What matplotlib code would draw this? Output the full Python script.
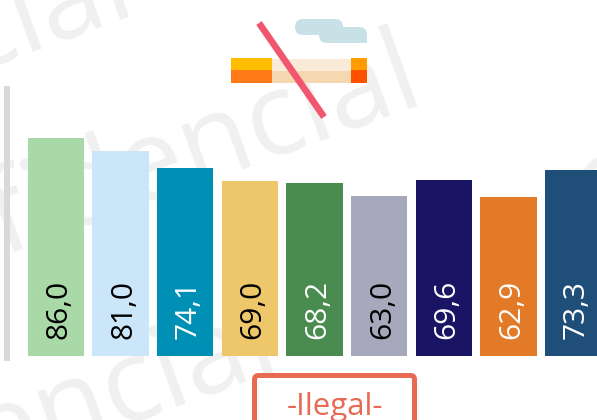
"""Bar chart with a crossed-out cigarette icon, "-Ilegal-" box and watermark."""

import matplotlib

matplotlib.use("Agg")
import matplotlib.pyplot as plt
from matplotlib.patches import FancyBboxPatch, Rectangle

W, H = 597, 420

values = [86.0, 81.0, 74.1, 69.0, 68.2, 63.0, 69.6, 62.9, 73.3]
value_labels = ["86,0", "81,0", "74,1", "69,0", "68,2", "63,0", "69,6", "62,9", "73,3"]
bar_colors = ["#aad9a8", "#cbe6f8", "#0090b5", "#eec76a", "#4a8c50",
              "#a8a8bc", "#1a1464", "#e27a27", "#1f4e79"]
label_colors = ["black", "black", "white", "black", "white",
                "black", "white", "white", "white"]
group_label = "-Ilegal-"
watermark = "Confidencial"

plt.rcParams["font.family"] = ["Open Sans", "DejaVu Sans"]

fig = plt.figure(figsize=(W / 100, H / 100), dpi=100)

# Pixel-grid background axes for the watermark, drawn under the bars
back = fig.add_axes([0, 0, 1, 1], zorder=-1)
back.set_xlim(0, W)
back.set_ylim(H, 0)
back.axis("off")
wm = dict(color="#f0f0f0", fontsize=83, rotation=20, rotation_mode="anchor",
          ha="right", va="baseline", clip_on=True)
back.text(138, 11, watermark, **wm)
back.text(426, 100, watermark, **wm)
back.text(282, 366, watermark, **wm)
back.text(1212, 20, watermark, **wm)

# Full-figure axes so the bars sit on the same pixel grid as the reference
ax = fig.add_axes([0, 0, 1, 1], zorder=1)
pitch = 64.7
scale = 2.535
ax.set_xlim(-55.75 / pitch, (W - 55.75) / pitch)
ax.set_ylim(-(H - 356) / scale, 356 / scale)
ax.axis("off")
ax.patch.set_alpha(0)

# Pixel overlay for the decorations
deco = fig.add_axes([0, 0, 1, 1], zorder=3)
deco.set_xlim(0, W)
deco.set_ylim(H, 0)
deco.axis("off")
deco.patch.set_alpha(0)

# Bars
xs = range(len(values))
ax.bar(xs, values, width=0.873, color=bar_colors, zorder=2)
for x, label, color in zip(xs, value_labels, label_colors):
    ax.text(x + 0.05, 6.6, label, rotation=90, ha="center", va="bottom",
            color=color, fontsize=21.5, zorder=3)

# Left axis line
deco.add_patch(Rectangle((4, 86), 6, 274.5, color="#d9d9d9", lw=0))

# Cigarette icon
deco.add_patch(Rectangle((231, 58), 41, 12, color="#ffbd00", lw=0))
deco.add_patch(Rectangle((231, 70), 41, 13, color="#ff7a17", lw=0))
deco.add_patch(Rectangle((272, 59), 79, 12, color="#faebd9", lw=0))
deco.add_patch(Rectangle((272, 71), 79, 12, color="#f5d7b0", lw=0))
deco.add_patch(Rectangle((351, 58), 16, 12, color="#ff9d00", lw=0))
deco.add_patch(Rectangle((351, 70), 16, 13, color="#ff5000", lw=0))

# Smoke cloud
cloud = "#c7e1e7"
deco.add_patch(FancyBboxPatch((295, 19), 48, 16, boxstyle="round,pad=0,rounding_size=8",
                              fc=cloud, ec="none"))
deco.add_patch(FancyBboxPatch((319, 27), 48, 16, boxstyle="round,pad=0,rounding_size=8",
                              fc=cloud, ec="none"))
deco.add_patch(Rectangle((357, 35), 10, 8, color=cloud, lw=0))

# Strike-through
deco.plot([259, 324], [23, 117], color="#f0566e", lw=4.8, solid_capstyle="butt")

# Group label box, runs off the bottom of the figure
deco.add_patch(FancyBboxPatch((254.5, 375.5), 160, 60, boxstyle="round,pad=0,rounding_size=4",
                              fc="none", ec="#e86a53", lw=3.6))
deco.text(335, 415, group_label, ha="center", va="baseline", color="#e86a53", fontsize=22.5)

fig.savefig("out.png", dpi=100)
